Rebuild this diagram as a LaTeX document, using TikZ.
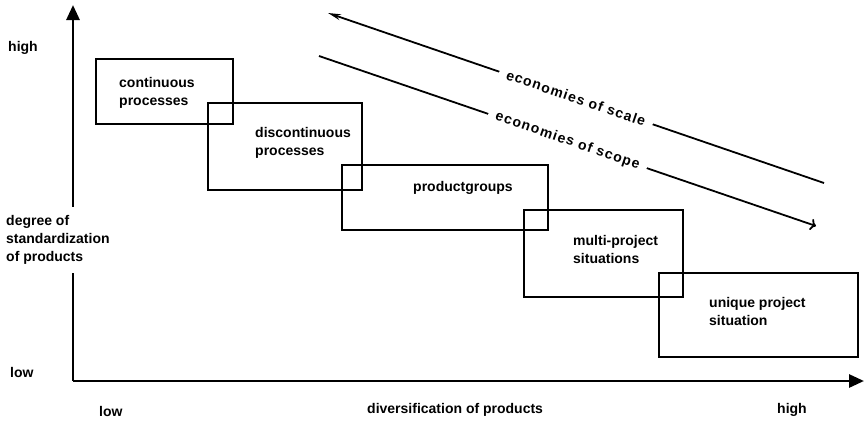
\documentclass[tikz,border=0pt]{standalone}
\usepackage{fontspec}
\setmainfont{Liberation Sans}
\usetikzlibrary{arrows.meta}

\begin{document}
\begin{tikzpicture} [x=1pt, y=-1pt, every node/.style={font=\fontsize{14}{18}\selectfont\bfseries, inner sep=0},
  box/.style= {shape=rectangle, draw, line width=2.2pt, anchor=north west},
  txt/.style= {align=left, anchor=north west},
  axis/.style= {line width=2.8pt, -{Triangle[length=15pt,width=13pt]}},
  econ/.style= {line width=1.8pt, {Stealth[length=13pt,width=6pt]}-},
  elbl/.style= {sloped, fill=white, inner xsep=8pt, inner ysep=4pt, font=\fontsize{14}{18}\selectfont\bfseries\addfontfeatures{LetterSpace=8}}]
\useasboundingbox (0,0) rectangle (865,421);

\coordinate (o) at (73,381);
\coordinate (ytip) at (73,5);
\coordinate (xtip) at (864,381);
\draw[axis] (o) -- (ytip);
\draw[axis] (o) -- (xtip);
\node[txt, anchor=west, fill=white, inner ysep=8pt] (ylbl) at (6,240) {degree of\\standardization\\of products};
\node[anchor=west] (yhigh) at (8,48) {high};
\node[anchor=west] (ylow) at (10,372) {low};
\node[anchor=west] (xlow) at (99,411) {low};
\node[anchor=west] (xlbl) at (367,410) {diversification of products};
\node[anchor=west] (xhigh) at (777,410) {high};

\foreach \n/\x/\y/\w/\h in {b1/95/58/137/65, b2/207/102/154/87, b3/341/164/206/65, b4/523/209/159/87, b5/658/272/199/84}{%
  \node[box, minimum width=\w pt, minimum height=\h pt] (\n) at (\x,\y) {};}

\node[txt] (t1) at ([shift={(24,19)}]b1.north west) {continuous\\processes};
\node[txt] (t2) at ([shift={(48,25)}]b2.north west) {discontinuous\\processes};
\node[txt] (t3) at ([shift={(72,17)}]b3.north west) {productgroups};
\node[txt] (t4) at ([shift={(50,26)}]b4.north west) {multi-project\\situations};
\node[txt] (t5) at ([shift={(51,25)}]b5.north west) {unique project\\situation};

\coordinate (sc1) at (328,13);
\coordinate (sc2) at (824,183);
\coordinate (sp1) at (319,56);
\coordinate (sp2) at (816,226);
\draw[econ] (sc1) -- node[elbl] (sclbl) {economies of scale} (sc2);
\draw[econ, <-] (sp2) -- node[elbl] (splbl) {economies of scope} (sp1);
\end{tikzpicture}
\end{document}
